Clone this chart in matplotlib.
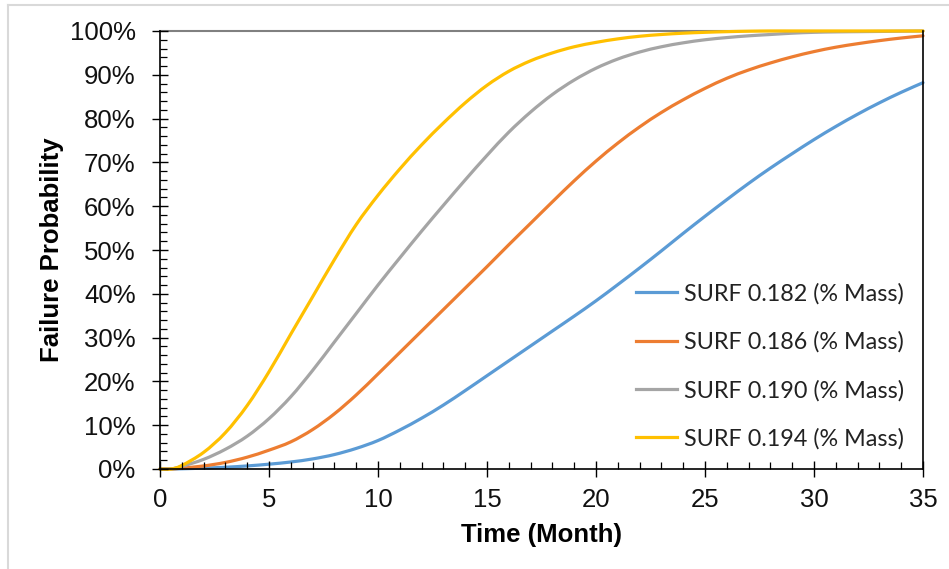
import matplotlib
matplotlib.use("Agg")
import numpy as np
import matplotlib.pyplot as plt
from matplotlib.ticker import MultipleLocator, PercentFormatter
from matplotlib.lines import Line2D
from matplotlib.path import Path
from matplotlib.patches import PathPatch

# Time axis (months)
months = [0, 0.5, 1, 2, 3, 4, 5, 6, 7, 8, 9, 10, 11, 12, 13, 14, 15, 16, 17,
          18, 19, 20, 21, 22, 23, 24, 25, 26, 27, 28, 29, 30, 31, 32, 33, 34, 35]

# Cumulative failure probability (%) per surfactant dosage
surf_182 = [0, 0, 0.05, 0.2, 0.4, 0.7, 1.1, 1.6, 2.3, 3.3, 4.7, 6.5, 8.9, 11.6,
            14.6, 17.9, 21.3, 24.7, 28.1, 31.5, 34.9, 38.4, 42.1, 45.9, 49.8,
            53.8, 57.7, 61.5, 65.2, 68.7, 72.0, 75.2, 78.2, 81.0, 83.6, 86.0, 88.2]
surf_186 = [0, 0, 0.2, 0.7, 1.5, 2.7, 4.3, 6.2, 9.0, 12.6, 16.9, 21.7, 26.6,
            31.5, 36.4, 41.3, 46.2, 51.2, 56.1, 61.0, 65.8, 70.3, 74.4, 78.1,
            81.4, 84.3, 86.9, 89.2, 91.1, 92.7, 94.1, 95.3, 96.3, 97.1, 97.8,
            98.4, 98.9]
surf_190 = [0, 0, 0.6, 2.2, 4.5, 7.5, 11.5, 16.5, 22.5, 29.0, 35.5, 42.0, 48.2,
            54.3, 60.2, 66.0, 71.6, 76.9, 81.5, 85.5, 88.8, 91.5, 93.6, 95.2,
            96.4, 97.3, 98.0, 98.5, 98.9, 99.2, 99.5, 99.7, 99.8, 99.85, 99.9,
            99.95, 100]
surf_194 = [0, 0, 0.8, 3.8, 8.3, 14.5, 22.2, 30.8, 39.3, 47.8, 55.8, 62.5, 68.5,
            74.0, 79.0, 83.6, 87.6, 90.8, 93.2, 95.0, 96.4, 97.4, 98.2, 98.8,
            99.2, 99.5, 99.7, 99.85, 99.95, 100, 100, 100, 100, 100, 100, 100, 100]

series_labels = ["SURF 0.182 (% Mass)", "SURF 0.186 (% Mass)",
                 "SURF 0.190 (% Mass)", "SURF 0.194 (% Mass)"]
series_colors = ["#5B9BD5", "#ED7D31", "#A5A5A5", "#FFC000"]

plt.rcParams["font.family"] = ["Liberation Sans", "DejaVu Sans"]


def smooth_path(xs, ys):
    """Bezier path through the points (spreadsheet-style smoothed line)."""
    p = np.column_stack([xs, ys]).astype(float)
    n = len(p)
    verts = [p[0]]
    codes = [Path.MOVETO]
    for i in range(n - 1):
        p0 = p[i - 1] if i > 0 else p[i]
        p1, p2 = p[i], p[i + 1]
        p3 = p[i + 2] if i + 2 < n else p[i + 1]
        c1 = p1 + (p2 - p0) / 6.0
        c2 = p2 - (p3 - p1) / 6.0
        verts += [c1, c2, p2]
        codes += [Path.CURVE4] * 3
    return Path(verts, codes)


fig = plt.figure(figsize=(9.49, 5.69), dpi=100)
ax = fig.add_axes([160 / 949, 1 - 469 / 569, 763 / 949, 438 / 569])

handles = []
for ys, lab, col in zip([surf_182, surf_186, surf_190, surf_194],
                        series_labels, series_colors):
    ax.add_patch(PathPatch(smooth_path(months, ys), fill=False, edgecolor=col,
                           lw=2.3, capstyle="round", joinstyle="round",
                           clip_on=False))
    handles.append(Line2D([], [], color=col, lw=2.3, label=lab))

ax.set_xlim(0, 35)
ax.set_ylim(0, 100)
ax.xaxis.set_major_locator(MultipleLocator(5))
ax.xaxis.set_minor_locator(MultipleLocator(1))
ax.yaxis.set_major_locator(MultipleLocator(10))
ax.yaxis.set_minor_locator(MultipleLocator(2))
ax.yaxis.set_major_formatter(PercentFormatter(decimals=0))

ax.tick_params(which="major", direction="inout", length=11, width=1.0,
               color="black", labelsize=18.5, labelcolor="#111111")
ax.tick_params(axis="x", which="major", pad=8)
ax.tick_params(axis="y", which="major", pad=12)
ax.tick_params(which="minor", direction="in", length=5, width=0.9, color="black")

for side in ["left", "right", "bottom"]:
    ax.spines[side].set_color("black")
    ax.spines[side].set_linewidth(1.2)
ax.spines["top"].set_color("#808080")
ax.spines["top"].set_linewidth(1.5)
ax.spines["top"].set_zorder(0.5)

ax.set_xlabel("Time (Month)", fontsize=18.5, fontweight="bold", labelpad=8)
ax.set_ylabel("Failure Probability", fontsize=18.5, fontweight="bold", labelpad=4)

leg = ax.legend(handles=handles, loc="upper left",
                bbox_to_anchor=(636 / 949, 1 - 283 / 569),
                bbox_transform=fig.transFigure, frameon=False,
                prop={"family": ["Lato", "DejaVu Sans"], "size": 16.8},
                handlelength=1.75, handletextpad=0.3, labelspacing=1.15,
                borderpad=0, borderaxespad=0)
for t in leg.get_texts():
    t.set_color("#222222")

# Light outer chart border (left and top edges)
fig.add_artist(Line2D([8 / 949, 8 / 949], [0, 1 - 5 / 569],
                      transform=fig.transFigure, color="#D9D9D9", lw=1.5))
fig.add_artist(Line2D([8 / 949, 1], [1 - 5 / 569, 1 - 5 / 569],
                      transform=fig.transFigure, color="#D9D9D9", lw=1.5))

fig.savefig("out.png", dpi=100)
